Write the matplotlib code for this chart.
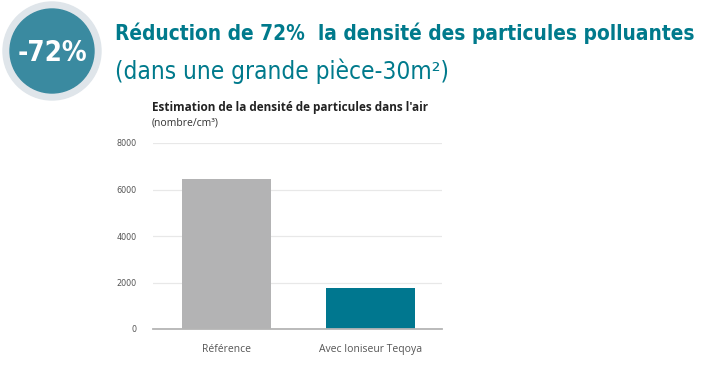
import matplotlib
matplotlib.use("Agg")
import matplotlib.pyplot as plt
from matplotlib.patches import Circle

categories = ["Référence", "Avec Ioniseur Teqoya"]
values = [6450, 1750]
yticks = [0, 2000, 4000, 6000, 8000]
bar_colors = ["#b3b3b4", "#00778f"]

fig = plt.figure(figsize=(7.11, 3.66), dpi=100)
fig.patch.set_facecolor("white")

ax = fig.add_axes([153/711, 1-329/366, 289/711, 186/366])
x = list(range(len(categories)))
ax.bar(x, values, width=0.62, color=bar_colors, zorder=3)
ax.set_xlim(-0.51, 1.50)
ax.set_ylim(0, 8000)
ax.set_yticks(yticks)
ax.set_yticklabels([str(v) for v in yticks], fontsize=6.5, color="#555555",
                   family="DejaVu Sans", fontstretch="condensed")
ax.set_xticks(x)
ax.set_xticklabels(categories, fontsize=7.5, color="#555555", family="Open Sans")
ax.tick_params(axis="both", length=0)
ax.tick_params(axis="y", pad=12)
ax.tick_params(axis="x", pad=11)
ax.grid(axis="y", color="#e8e8e8", linewidth=0.9, zorder=0)
for s in ["top", "right", "left"]:
    ax.spines[s].set_visible(False)
ax.spines["bottom"].set_color("#b5b5b5")
ax.spines["bottom"].set_linewidth(1.3)
ax.spines["bottom"].set_zorder(4)

# badge circle
cax = fig.add_axes([0, 0, 1, 1], zorder=5)
cax.set_xlim(0, 711)
cax.set_ylim(366, 0)
cax.set_aspect("equal")
cax.axis("off")
cax.add_patch(Circle((52, 51), 49, color="#dfe5ea"))
cax.add_patch(Circle((52, 51), 42, color="#3a8aa0"))
badge = cax.text(52, 53, "-72%", color="white", fontsize=24, fontweight="bold",
                 family="DejaVu Sans", fontstretch="condensed", ha="center", va="center")

title = fig.text(115/711, 1-33/366, "Réduction de 72%  la densité des particules polluantes",
                 color="#007a8c", fontsize=24, fontweight="bold", family="DejaVu Sans",
                 fontstretch="condensed", ha="left", va="center")
sub = fig.text(115/711, 1-71/366, "(dans une grande pièce-30m²)",
               color="#007a8c", fontsize=22, family="DejaVu Sans", fontstretch="condensed",
               ha="left", va="center")
fig.text(152/711, 1-108/366, "Estimation de la densité de particules dans l'air",
         color="#222222", fontsize=8.5, fontweight="bold", family="Open Sans",
         ha="left", va="center")
fig.text(152/711, 1-123/366, "(nombre/cm³)",
         color="#333333", fontsize=7.5, family="Open Sans", ha="left", va="center")

# fit widths to the reference
renderer = fig.canvas.get_renderer()
for t, target in [(title, 580), (sub, 333), (badge, 70)]:
    w = t.get_window_extent(renderer).width
    t.set_fontsize(t.get_fontsize() * target / w)

fig.savefig("out.png", dpi=100, facecolor="white")
